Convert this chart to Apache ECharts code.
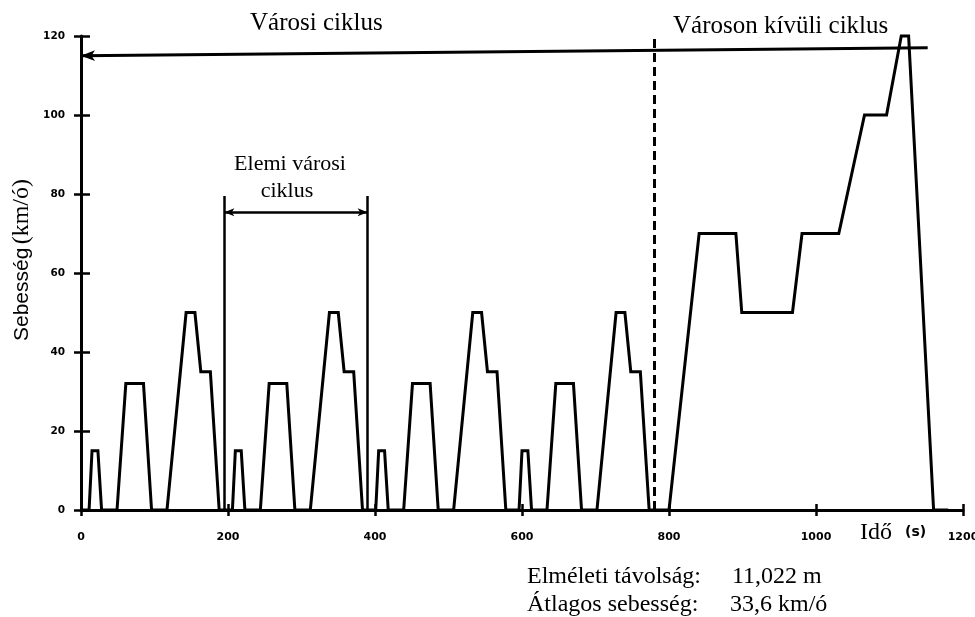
<!DOCTYPE html>
<html>
<head>
<meta charset="utf-8">
<script src="https://cdn.jsdelivr.net/npm/echarts@6/dist/echarts.min.js"></script>
<style>html,body{margin:0;padding:0;background:#fff}#c{width:975px;height:617px}</style>
</head>
<body>
<div id="c"></div>
<script>
// Time breakpoints (s) and speed (km/h)
const timeS = [
  0, 11, 15, 23, 28, 49, 61, 85, 96, 117, 143, 155, 163, 176, 188,
  206, 210, 218, 223, 244, 256, 280, 291, 312, 338, 350, 358, 371, 383,
  401, 405, 413, 418, 439, 451, 475, 486, 507, 533, 545, 553, 566, 578,
  596, 600, 608, 613, 634, 646, 670, 681, 702, 728, 740, 748, 761, 773,
  800, 841, 891, 899, 968, 981, 1031, 1066, 1096, 1116, 1126, 1160, 1180
];
const speedKmh = [
  0, 0, 15, 15, 0, 0, 32, 32, 0, 0, 50, 50, 35, 35, 0,
  0, 15, 15, 0, 0, 32, 32, 0, 0, 50, 50, 35, 35, 0,
  0, 15, 15, 0, 0, 32, 32, 0, 0, 50, 50, 35, 35, 0,
  0, 15, 15, 0, 0, 32, 32, 0, 0, 50, 50, 35, 35, 0,
  0, 70, 70, 50, 50, 70, 70, 100, 100, 120, 120, 0, 0
];
const xTicks = [0, 200, 400, 600, 800, 1000, 1200];
const yTicks = [0, 20, 40, 60, 80, 100, 120];
// annotation values (data units)
const urbanEnd = 780;
const elemCycle = [195, 390];
const elemTop = 79.5;
const elemArrowY = 75.4;
const urbanLine = [[0, 115], [1152, 117]];

const black = '#000';
const chart = echarts.init(document.getElementById('c'), null, {renderer: 'canvas'});
const seriesData = timeS.map((t, i) => [t, speedKmh[i]]);

const tickFont = {color: black, fontFamily: 'DejaVu Sans', fontWeight: 'bold', formatter: v => String(v)};

chart.setOption({
  animation: false,
  backgroundColor: '#fff',
  grid: {left: 81, right: 12, top: 36, bottom: 107, containLabel: false, outerBoundsMode: 'none'},
  xAxis: [{
    type: 'value', min: xTicks[0], max: xTicks[xTicks.length - 1], interval: 200, position: 'bottom',
    axisLine: {show: true, lineStyle: {color: black, width: 3}},
    axisTick: {show: true, length: 6, lineStyle: {color: black, width: 2.5}},
    axisLabel: Object.assign({fontSize: 11, margin: 22}, tickFont),
    splitLine: {show: false}
  }, {
    type: 'value', min: xTicks[0], max: xTicks[xTicks.length - 1], interval: 200, position: 'bottom',
    axisLine: {show: false},
    axisTick: {show: true, inside: true, length: 6, lineStyle: {color: black, width: 2.5}},
    axisLabel: {show: false}, splitLine: {show: false}
  }],
  yAxis: [{
    type: 'value', min: yTicks[0], max: yTicks[yTicks.length - 1], interval: 20, position: 'left',
    axisLine: {show: true, lineStyle: {color: black, width: 3}},
    axisTick: {show: true, length: 7, lineStyle: {color: black, width: 2.5}},
    axisLabel: Object.assign({fontSize: 10.5, margin: 16}, tickFont),
    splitLine: {show: false}
  }, {
    type: 'value', min: yTicks[0], max: yTicks[yTicks.length - 1], interval: 20, position: 'left',
    axisLine: {show: false},
    axisTick: {show: true, inside: true, length: 9, lineStyle: {color: black, width: 2.5}},
    axisLabel: {show: false}, splitLine: {show: false}
  }],
  series: [{
    type: 'line',
    xAxisIndex: 0, yAxisIndex: 0,
    data: seriesData,
    showSymbol: false, symbol: 'none',
    lineStyle: {color: black, width: 3, join: 'miter'},
    clip: false,
    markLine: {
      silent: true,
      animation: false,
      label: {show: false},
      data: [
        [{coord: urbanLine[0], symbol: 'arrow', symbolSize: [8, 14], lineStyle: {color: black, width: 3, type: 'solid'}},
         {coord: urbanLine[1], symbol: 'none'}],
        [{coord: [urbanEnd, 0], symbol: 'none', lineStyle: {color: black, width: 3, type: [9, 5]}},
         {coord: [urbanEnd, 120], symbol: 'none'}],
        [{coord: [elemCycle[0], 0], symbol: 'none', lineStyle: {color: black, width: 2.5, type: 'solid'}},
         {coord: [elemCycle[0], elemTop], symbol: 'none'}],
        [{coord: [elemCycle[1], 0], symbol: 'none', lineStyle: {color: black, width: 2.5, type: 'solid'}},
         {coord: [elemCycle[1], elemTop], symbol: 'none'}],
        [{coord: [elemCycle[0], elemArrowY], symbol: 'arrow', symbolSize: [6, 10], lineStyle: {color: black, width: 2.5, type: 'solid'}},
         {coord: [elemCycle[1], elemArrowY], symbol: 'arrow', symbolSize: [6, 10]}]
      ]
    }
  }],
  graphic: [
    {type: 'text', x: 250, y: 23, style: {text: 'Városi ciklus', font: '25px "Liberation Serif"', fill: black, align: 'left', verticalAlign: 'middle'}},
    {type: 'text', x: 673, y: 26, style: {text: 'Városon kívüli ciklus', font: '25px "Liberation Serif"', fill: black, align: 'left', verticalAlign: 'middle'}},
    {type: 'text', x: 290, y: 164, style: {text: 'Elemi városi', font: '22px "Liberation Serif"', fill: black, align: 'center', verticalAlign: 'middle'}},
    {type: 'text', x: 287, y: 191, style: {text: 'ciklus', font: '22px "Liberation Serif"', fill: black, align: 'center', verticalAlign: 'middle'}},
    {type: 'text', x: 860, y: 533, style: {text: 'Idő', font: '24px "Liberation Serif"', fill: black, align: 'left', verticalAlign: 'middle'}},
    {type: 'text', x: 905, y: 532, style: {text: '(s)', font: 'bold 14px "DejaVu Sans"', fill: black, align: 'left', verticalAlign: 'middle'}},
    {type: 'text', x: 527, y: 577, style: {text: 'Elméleti távolság:', font: '24px "Liberation Serif"', fill: black, align: 'left', verticalAlign: 'middle'}},
    {type: 'text', x: 732, y: 577, style: {text: '11,022 m', font: '24px "Liberation Serif"', fill: black, align: 'left', verticalAlign: 'middle'}},
    {type: 'text', x: 527, y: 605, style: {text: 'Átlagos sebesség:', font: '24px "Liberation Serif"', fill: black, align: 'left', verticalAlign: 'middle'}},
    {type: 'text', x: 730, y: 605, style: {text: '33,6 km/ó', font: '24px "Liberation Serif"', fill: black, align: 'left', verticalAlign: 'middle'}},
    {type: 'text', x: 22, y: 260, rotation: Math.PI / 2,
      style: {text: '{a|Sebesség} {b|(km/ó)}', align: 'center', verticalAlign: 'middle', fill: black,
        rich: {a: {fontFamily: 'Liberation Sans', fontSize: 21, fill: black, color: black},
               b: {fontFamily: 'Liberation Serif', fontSize: 24, fill: black, color: black}}}}
  ]
});
</script>
</body>
</html>
